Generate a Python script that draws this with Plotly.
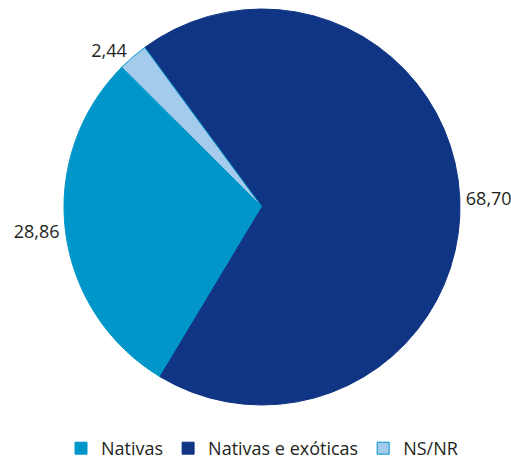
import plotly.graph_objects as go

labels = ["Nativas", "Nativas e exóticas", "NS/NR"]
values = [28.86, 68.70, 2.44]
text_labels = ["28,86", "68,70", "2,44"]
colors = ["#0096c9", "#103584", "#a4caec"]
line_colors = ["#0096c9", "#103584", "#0096c9"]

W, H = 511, 459
cx, cy, r = 262, 207, 198

fig = go.Figure(go.Pie(
    labels=labels,
    values=values,
    text=text_labels,
    textinfo="text",
    textposition="outside",
    sort=False,
    direction="counterclockwise",
    rotation=211,
    marker=dict(colors=colors, line=dict(color=line_colors, width=1)),
    textfont=dict(size=18, color="#231f20", family="Open Sans"),
    domain=dict(x=[(cx - r) / W, (cx + r) / W], y=[1 - (cy + r) / H, 1 - (cy - r) / H]),
    hoverinfo="label+value",
))

fig.update_layout(
    width=W, height=H,
    margin=dict(l=0, r=0, t=0, b=0, autoexpand=False),
    paper_bgcolor="white",
    font=dict(family="Open Sans", size=18, color="#231f20"),
    showlegend=True,
    legend=dict(orientation="h", x=262 / W, xanchor="center", y=-8 / H, yanchor="bottom",
                font=dict(size=18, color="#231f20"), itemclick=False,
                traceorder="normal"),
)

fig.write_html("out.html", config={"displayModeBar": False},
               post_script="document.body.style.margin='0px';")
